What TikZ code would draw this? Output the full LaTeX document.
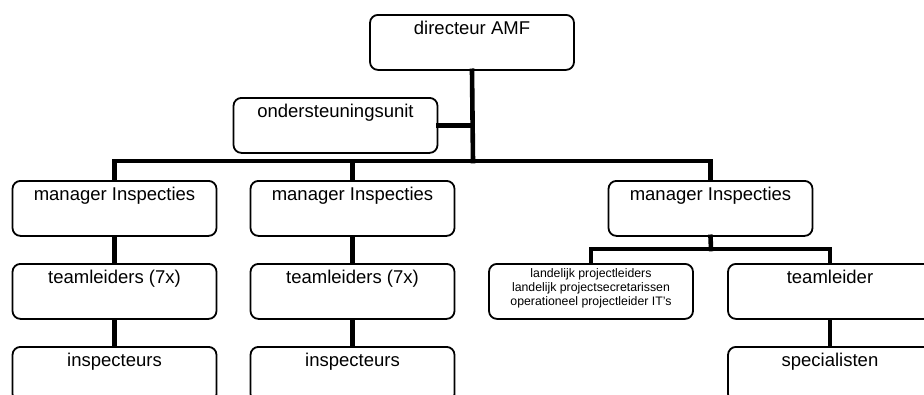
\documentclass[tikz,border=0pt]{standalone}
\usepackage{fontspec}
\setmainfont{Liberation Sans}
\begin{document}
\begin{tikzpicture}[x=1pt,y=-1pt,
  box/.style={draw=black, line width=1.8pt, rounded corners=8pt, minimum width=204pt, minimum height=55pt, inner sep=0pt, anchor=north},
  lbl/.style={anchor=base, yshift=-20.5pt, inner sep=0pt, font=\fontsize{18.5}{22}\selectfont},
  small/.style={anchor=north, yshift=-5.5pt, inner sep=0pt, align=center, font=\fontsize{12.3}{13.7}\selectfont},
  conn/.style={draw=black, line width=4.6pt, line join=miter, line cap=rect}]
\useasboundingbox (0,0) rectangle (924,394);
\clip (0,0) rectangle (924,394);
\fill[white] (0,0) rectangle (924,394);
% boxes
\node[box, label={[lbl]north:directeur AMF}] (dir) at (472,14) {};
\node[box, label={[lbl]north:ondersteuningsunit}] (ond) at (335.5,97) {};
\node[box, label={[lbl]north:manager Inspecties}] (m1) at (114.5,180) {};
\node[box, label={[lbl]north:manager Inspecties}] (m2) at (352.5,180) {};
\node[box, label={[lbl]north:manager Inspecties}] (m3) at (710.5,180) {};
\node[box, label={[lbl]north:teamleiders (7x)}] (t1) at (114.5,263) {};
\node[box, label={[lbl]north:teamleiders (7x)}] (t2) at (352.5,263) {};
\node[box, label={[small]north:landelijk projectleiders\\landelijk projectsecretarissen\\operationeel projectleider IT's}] (land) at (591,263) {};
\node[box, label={[lbl]north:teamleider}] (tl) at (830,263) {};
\node[box, label={[lbl]north:inspecteurs}] (i1) at (114.5,346) {};
\node[box, label={[lbl]north:inspecteurs}] (i2) at (352.5,346) {};
\node[box, label={[lbl]north:specialisten}] (sp) at (830,346) {};
% bus coordinates
\coordinate (bus) at (473,161);
\coordinate (bus3) at (711,249);
% connectors
\draw[conn] (dir.south) -- (bus);
\draw[conn] (ond.east) -- (ond.east -| bus);
\draw[conn] (m1.north) -- (m1.north |- bus) -- (m3.north |- bus) -- (m3.north);
\draw[conn] (m2.north) -- (m2.north |- bus);
\draw[conn] (m1.south) -- (t1.north);
\draw[conn] (m2.south) -- (t2.north);
\draw[conn] (t1.south) -- (i1.north);
\draw[conn] (t2.south) -- (i2.north);
\draw[conn] (m3.south) -- (bus3);
\draw[conn] (land.north) -- (land.north |- bus3) -- (tl.north |- bus3) -- (tl.north);
\draw[conn] (tl.south) -- (sp.north);
\end{tikzpicture}
\end{document}
